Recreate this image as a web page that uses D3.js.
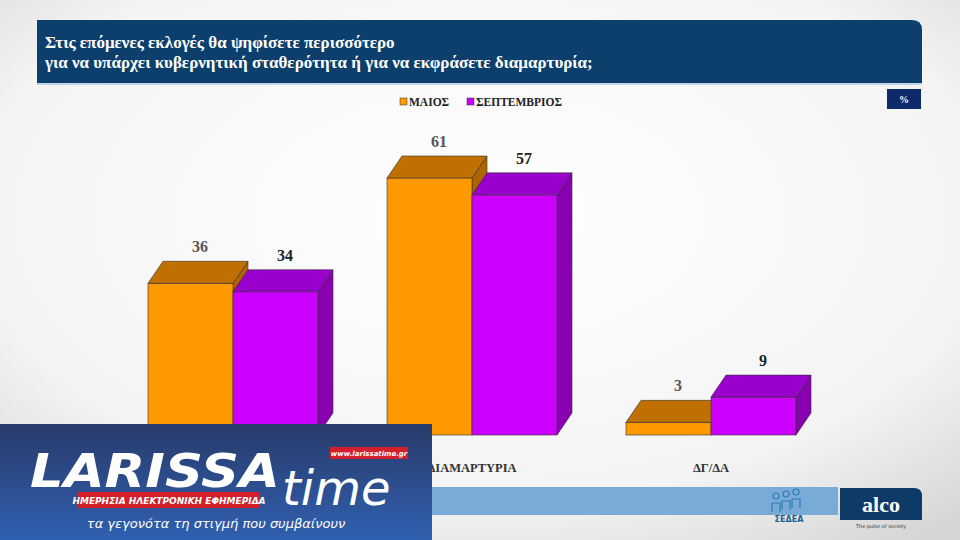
<!DOCTYPE html><html><head><meta charset="utf-8">
<script src="https://cdn.jsdelivr.net/npm/d3@7"></script>
<style>body{margin:0}svg{display:block}</style></head><body>
<svg id="c" width="960" height="540"></svg>
<script>
const categories=["ΚΥΒΕΡΝΗΤΙΚΗ ΣΤΑΘΕΡΟΤΗΤΑ","ΔΙΑΜΑΡΤΥΡΙΑ","ΔΓ/ΔΑ"];
const seriesNames=["ΜΑΙΟΣ","ΣΕΠΤΕΜΒΡΙΟΣ"];
const maios=[36,61,3];
const septemvrios=[34,57,9];
const title=["Στις επόμενες εκλογές θα ψηφίσετε περισσότερο","για να υπάρχει κυβερνητική σταθερότητα ή για να εκφράσετε διαμαρτυρία;"];

const svg=d3.select("#c");
const defs=svg.append("defs");
const bg=defs.append("radialGradient").attr("id","bg").attr("cx","50%").attr("cy","40%").attr("r","75%");
bg.append("stop").attr("offset","0%").attr("stop-color","#ffffff");
bg.append("stop").attr("offset","70%").attr("stop-color","#f4f4f4");
bg.append("stop").attr("offset","100%").attr("stop-color","#d6d6d6");
svg.append("rect").attr("width",960).attr("height",540).attr("fill","url(#bg)");

svg.append("path").attr("d","M37,20 H912 Q922,20 922,30 V83 H37 Z").attr("fill","#0d3f6d");
svg.append("line").attr("x1",37).attr("x2",922).attr("y1",84).attr("y2",84).attr("stroke","#8fb0d0");
svg.selectAll(".tt").data(title).join("text").attr("x",45).attr("y",(d,i)=>48+i*20)
 .attr("fill","#fff").attr("font-family","Liberation Serif, serif").attr("font-size",17).attr("font-weight","bold").text(d=>d);
svg.append("rect").attr("x",887).attr("y",89).attr("width",34).attr("height",20).attr("fill","#0d2a6b");
svg.append("text").attr("x",904).attr("y",103).attr("text-anchor","middle").attr("fill","#fff").attr("font-family","Liberation Serif, serif").attr("font-size",10).attr("font-weight","bold").text("%");

const colors=[{front:"#FF9900",top:"#C07000",side:"#B06400"},{front:"#CC00FF",top:"#9900CC",side:"#8800B0"}];
const lg=[{x:400},{x:467}];
seriesNames.forEach((n,i)=>{
 svg.append("rect").attr("x",lg[i].x).attr("y",98).attr("width",7).attr("height",7).attr("fill",colors[i].front).attr("stroke","#333").attr("stroke-width",0.5);
 svg.append("text").attr("x",lg[i].x+9).attr("y",106).attr("font-family","Liberation Serif, serif").attr("font-size",11.5).attr("font-weight","bold").attr("fill","#222").text(n);
});

const x0=d3.scaleBand().domain(categories).range([113.5,830.5]).paddingInner(0.2887).paddingOuter(0.14435);
const x1=d3.scaleBand().domain(seriesNames).range([0,x0.bandwidth()]);
const y=d3.scaleLinear().domain([0,61]).range([435,178]);
const dx=15,dy=-22;
const data=[maios,septemvrios];
categories.forEach((c,ci)=>{
 data.forEach((arr,si)=>{
  const v=arr[ci], xl=x0(c)+x1(seriesNames[si]), w=x1.bandwidth(), yt=y(v), yb=y(0);
  const g=svg.append("g").attr("stroke","#333").attr("stroke-width",0.6);
  g.append("path").attr("d",`M${xl+w},${yb}L${xl+w+dx},${yb+dy}L${xl+w+dx},${yt+dy}L${xl+w},${yt}Z`).attr("fill",colors[si].side);
  g.append("rect").attr("x",xl).attr("y",yt).attr("width",w).attr("height",yb-yt).attr("fill",colors[si].front);
  g.append("path").attr("d",`M${xl},${yt}L${xl+dx},${yt+dy}L${xl+w+dx},${yt+dy}L${xl+w},${yt}Z`).attr("fill",colors[si].top);
  svg.append("text").attr("x",xl+w/2+dx/2+2).attr("y",yt+dy-9).attr("text-anchor","middle")
   .attr("font-family","Liberation Serif, serif").attr("font-size",16).attr("font-weight","bold").attr("fill",si?"#222":"#555").text(v);
 });
 svg.append("text").attr("x",x0(c)+x0.bandwidth()/2).attr("y",472).attr("text-anchor","middle")
  .attr("font-family","Liberation Serif, serif").attr("font-size",12.5).attr("font-weight","bold").attr("fill","#333").text(c);
});

// footer
svg.append("rect").attr("x",430).attr("y",487).attr("width",408).attr("height",28).attr("fill","#7aaad6");
svg.append("text").attr("x",789).attr("y",522).attr("text-anchor","middle").attr("font-family","DejaVu Sans").attr("font-size",8).attr("font-weight","bold").attr("fill","#1d5f94").text("ΣΕΔΕΑ");
[0,1,2].forEach(i=>{
 svg.append("circle").attr("cx",776+i*10).attr("cy",496-i*2).attr("r",3).attr("fill","none").attr("stroke","#2a7fb8").attr("stroke-width",1.2);
 svg.append("path").attr("d",`M${772+i*10},${512-i*2}V${503-i*2}H${780+i*10}V${512-i*2}`).attr("fill","none").attr("stroke","#2a7fb8").attr("stroke-width",1.2);
});
svg.append("path").attr("d","M840,488 H914 Q922,488 922,496 V520 H840 Z").attr("fill","#0d3a66");
svg.append("text").attr("x",881).attr("y",512).attr("text-anchor","middle").attr("font-family","Liberation Serif, serif").attr("font-size",22).attr("font-weight","bold").attr("fill","#fff").text("alco");
svg.append("text").attr("x",881).attr("y",528).attr("text-anchor","middle").attr("font-family","DejaVu Sans").attr("font-size",5).attr("fill","#333").text("The pulse of society");

// overlay logo
const lgg=defs.append("linearGradient").attr("id","lg").attr("x1",0).attr("y1",0).attr("x2",0).attr("y2",1);
lgg.append("stop").attr("offset","0%").attr("stop-color","#283a6a");
lgg.append("stop").attr("offset","100%").attr("stop-color","#3060b0");
svg.append("rect").attr("x",0).attr("y",424).attr("width",432).attr("height",116).attr("fill","url(#lg)");
svg.append("text").attr("x",30).attr("y",487).attr("font-family","DejaVu Sans").attr("font-style","italic").attr("font-weight","bold").attr("font-size",46).attr("fill","#fff").attr("textLength",250).attr("lengthAdjust","spacingAndGlyphs").text("LARISSA");
svg.append("text").attr("x",282).attr("y",505).attr("font-family","DejaVu Sans").attr("font-style","italic").attr("font-size",48).attr("fill","#fff").text("time");
svg.append("rect").attr("x",330).attr("y",447).attr("width",78).attr("height",12).attr("fill","#d21f2a");
svg.append("text").attr("x",369).attr("y",456).attr("text-anchor","middle").attr("font-family","DejaVu Sans").attr("font-style","italic").attr("font-weight","bold").attr("font-size",7).attr("fill","#fff").text("www.larissatime.gr");
svg.append("rect").attr("x",78).attr("y",492).attr("width",182).attr("height",16).attr("fill","#d21f2a");
svg.append("text").attr("x",169).attr("y",504).attr("text-anchor","middle").attr("font-family","DejaVu Sans").attr("font-style","italic").attr("font-weight","bold").attr("font-size",9).attr("fill","#fff").text("ΗΜΕΡΗΣΙΑ ΗΛΕΚΤΡΟΝΙΚΗ ΕΦΗΜΕΡΙΔΑ");
svg.append("text").attr("x",216).attr("y",528).attr("text-anchor","middle").attr("font-family","DejaVu Sans").attr("font-style","italic").attr("font-size",13).attr("fill","#fff").text("τα γεγονότα τη στιγμή που συμβαίνουν");
</script></body></html>
